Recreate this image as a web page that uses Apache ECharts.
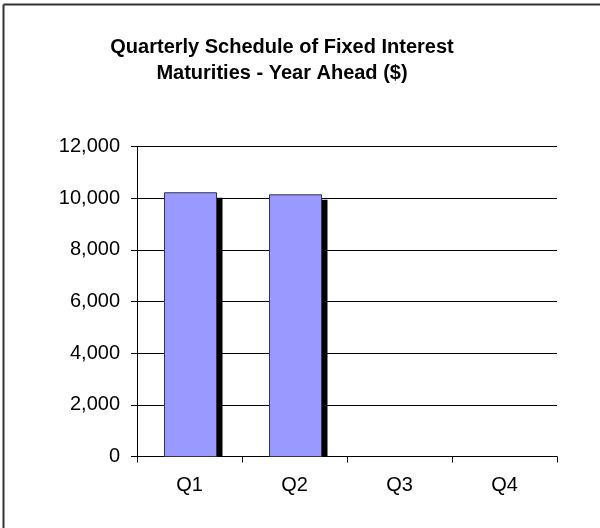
<!DOCTYPE html>
<html>
<head>
<meta charset="utf-8">
<script src="https://cdn.jsdelivr.net/npm/echarts@6/dist/echarts.min.js"></script>
<style>html,body{margin:0;padding:0;background:#fff}#c{width:600px;height:528px}</style>
</head>
<body>
<div id="c"></div>
<script>
const categories = ['Q1', 'Q2', 'Q3', 'Q4'];
const maturities = [10210, 10130, 0, 0];
const titleLines = ['Quarterly Schedule of Fixed Interest', 'Maturities - Year Ahead ($)'];

const FONT = 'Arial, "Liberation Sans", sans-serif';
const chart = echarts.init(document.getElementById('c'), null, {renderer: 'canvas'});
chart.setOption({
  animation: false,
  backgroundColor: '#fff',
  graphic: [
    {type: 'line', shape: {x1: 3.5, y1: 4.5, x2: 600, y2: 4.5}, style: {stroke: '#333', lineWidth: 2}},
    {type: 'line', shape: {x1: 3.5, y1: 4.5, x2: 3.5, y2: 528}, style: {stroke: '#333', lineWidth: 2}},
    {type: 'text', x: 282, y: 47, style: {text: titleLines[0], font: 'bold 20px ' + FONT, fill: '#000', textAlign: 'center', textVerticalAlign: 'middle'}},
    {type: 'text', x: 282, y: 73, style: {text: titleLines[1], font: 'bold 20px ' + FONT, fill: '#000', textAlign: 'center', textVerticalAlign: 'middle'}}
  ],
  grid: {left: 137, right: 43, top: 146.5, bottom: 71.5, containLabel: false},
  xAxis: {
    type: 'category',
    data: categories,
    axisLine: {lineStyle: {color: '#000', width: 1}},
    axisTick: {show: true, length: 6, alignWithLabel: false, lineStyle: {color: '#000'}},
    axisLabel: {color: '#000', fontSize: 20, fontFamily: FONT, margin: 19},
    splitLine: {show: false}
  },
  yAxis: {
    type: 'value',
    min: 0, max: 12000, interval: 2000,
    axisLine: {show: true, lineStyle: {color: '#000', width: 1}},
    axisTick: {show: true, length: 6, lineStyle: {color: '#000'}},
    axisLabel: {color: '#000', fontSize: 20, fontFamily: FONT, margin: 17,
      formatter: v => v.toLocaleString('en-US')},
    splitLine: {show: true, lineStyle: {color: '#000', width: 1}}
  },
  series: [{
    type: 'custom',
    data: maturities,
    encode: {x: 0, y: 0},
    renderItem: function (params, api) {
      const idx = params.dataIndex;
      const v = api.value(0);
      if (!(v > 0)) return null;
      const top = api.coord([idx, v]);
      const base = api.coord([idx, 0]);
      const w = 52;
      const left = Math.round(top[0] - w / 2) + 0.5;
      const y0 = top[1];
      const yb = base[1];
      return {
        type: 'group',
        children: [
          {type: 'rect', shape: {x: left + 6, y: y0 + 5, width: w, height: yb - y0 - 5}, style: {fill: '#000'}},
          {type: 'rect', shape: {x: left, y: y0, width: w, height: yb - y0}, style: {fill: '#9999FF', stroke: '#333355', lineWidth: 1}}
        ]
      };
    }
  }]
});
</script>
</body>
</html>
